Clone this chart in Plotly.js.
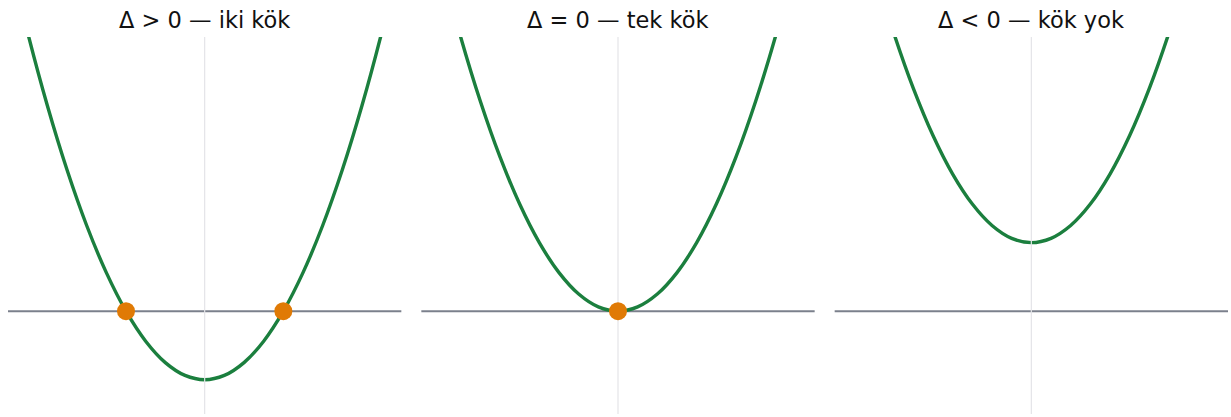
<!DOCTYPE html>
<html>
<head>
<meta charset="utf-8">
<script src="https://cdn.plot.ly/plotly-3.0.1.min.js"></script>
<style>
  html, body { margin: 0; padding: 0; background: #ffffff; }
  #chart { width: 1231px; height: 417px; }
</style>
</head>
<body>
<div id="chart"></div>
<script>
// Sample x positions shared by the three parabolas
const xs = [-2.5, -2.25, -2, -1.75, -1.5, -1.25, -1, -0.75, -0.5, -0.25, 0,
            0.25, 0.5, 0.75, 1, 1.25, 1.5, 1.75, 2, 2.25, 2.5];

// Curve values for each case
const yTwoRoots = [5.25, 4.0625, 3, 2.0625, 1.25, 0.5625, 0, -0.4375, -0.75, -0.9375, -1,
                   -0.9375, -0.75, -0.4375, 0, 0.5625, 1.25, 2.0625, 3, 4.0625, 5.25];
const yOneRoot  = [6.25, 5.0625, 4, 3.0625, 2.25, 1.5625, 1, 0.5625, 0.25, 0.0625, 0,
                   0.0625, 0.25, 0.5625, 1, 1.5625, 2.25, 3.0625, 4, 5.0625, 6.25];
const yNoRoot   = [7.25, 6.0625, 5, 4.0625, 3.25, 2.5625, 2, 1.5625, 1.25, 1.0625, 1,
                   1.0625, 1.25, 1.5625, 2, 2.5625, 3.25, 4.0625, 5, 6.0625, 7.25];

// Roots marked on the x axis
const rootsTwo = [-1, 1];
const rootsOne = [0];
const rootsNone = [];

const panelTitles = ["Δ > 0 — iki kök", "Δ = 0 — tek kök", "Δ < 0 — kök yok"];

const curveColor = "#1b7f3e";
const rootColor = "#e07a05";
const axisColor = "#7b808c";
const centerColor = "#e4e4e8";

const yRange = [-1.5, 4];
const curves = [yTwoRoots, yOneRoot, yNoRoot];
const roots = [rootsTwo, rootsOne, rootsNone];

const traces = [];
const shapes = [];
const annotations = [];
const layout = {
  width: 1231,
  height: 417,
  margin: { l: 8, r: 3, t: 37, b: 3 },
  paper_bgcolor: "#ffffff",
  plot_bgcolor: "#ffffff",
  showlegend: false,
  font: { family: "DejaVu Sans, sans-serif", color: "#111111" }
};

const gap = 20 / 1220;
const w = (1 - 2 * gap) / 3;

curves.forEach((ys, i) => {
  const n = i === 0 ? "" : String(i + 1);
  const xa = "x" + n, ya = "y" + n;
  const x0 = i * (w + gap);

  layout["xaxis" + n] = {
    domain: [x0, x0 + w], range: [-2.5, 2.5], anchor: ya,
    showgrid: false, zeroline: false, showticklabels: false, ticks: "",
    showline: false, fixedrange: true
  };
  layout["yaxis" + n] = {
    domain: [0, 1], range: yRange, anchor: xa,
    showgrid: false, zeroline: false, showticklabels: false, ticks: "",
    showline: false, fixedrange: true
  };

  // horizontal x axis at y = 0
  shapes.push({
    type: "line", layer: "below",
    xref: xa + " domain", yref: ya,
    x0: 0, x1: 1, y0: 0, y1: 0,
    line: { color: axisColor, width: 2 }
  });

  // the parabola
  traces.push({
    type: "scatter", mode: "lines",
    x: xs, y: ys, xaxis: xa, yaxis: ya,
    line: { color: curveColor, width: 3.4, shape: "spline", smoothing: 0.8 },
    hoverinfo: "skip"
  });

  // light vertical line at x = 0, drawn over the curve
  traces.push({
    type: "scatter", mode: "lines",
    x: [0, 0], y: yRange, xaxis: xa, yaxis: ya,
    line: { color: centerColor, width: 1.2 },
    hoverinfo: "skip"
  });

  // roots on top
  if (roots[i].length) {
    traces.push({
      type: "scatter", mode: "markers",
      x: roots[i], y: roots[i].map(() => 0), xaxis: xa, yaxis: ya,
      marker: { color: rootColor, size: 18 },
      hoverinfo: "skip", cliponaxis: false
    });
  }

  annotations.push({
    text: panelTitles[i],
    xref: xa + " domain", yref: "paper",
    x: 0.5, y: 1, xanchor: "center", yanchor: "bottom",
    yshift: 2, showarrow: false,
    font: { size: 22.5, family: "DejaVu Sans, sans-serif", color: "#111111" }
  });
});

layout.shapes = shapes;
layout.annotations = annotations;

Plotly.newPlot("chart", traces, layout, { displayModeBar: false, staticPlot: true });
</script>
</body>
</html>
